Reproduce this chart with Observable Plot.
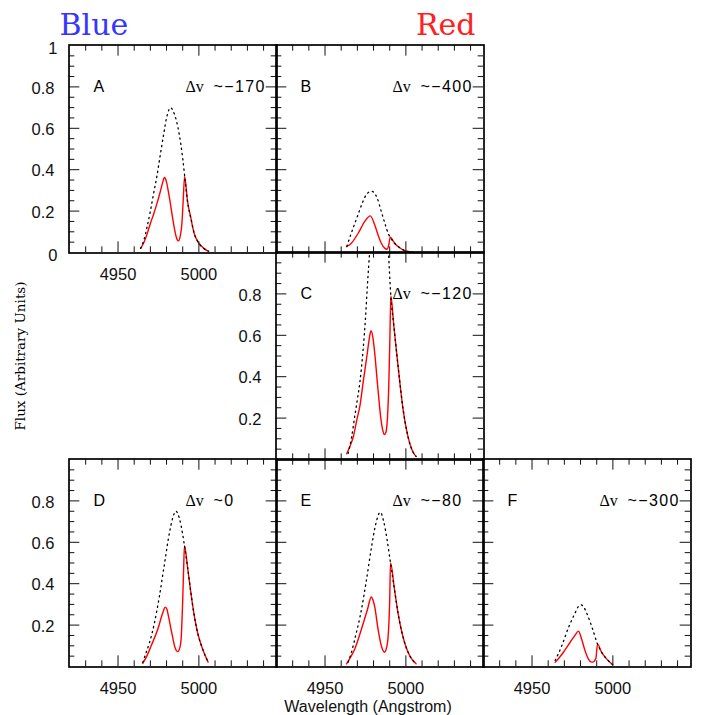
<!DOCTYPE html>
<html>
<head>
<meta charset="utf-8">
<script src="https://cdn.jsdelivr.net/npm/d3@7"></script>
<script src="https://cdn.jsdelivr.net/npm/@observablehq/plot@0.6"></script>
<style>
  html, body { margin: 0; padding: 0; background: #ffffff; }
  #chart { width: 705px; height: 715px; }
</style>
</head>
<body>
<div id="chart"></div>
<script>
// ---------- data ----------
const panelIds    = ["A", "B", "C", "D", "E", "F"];
const panelColumn = [0, 1, 1, 0, 1, 2];
const panelRow    = [0, 0, 1, 2, 2, 2];
const deltaV      = ["−170", "−400", "−120", "0", "−80", "−300"];
const columnTitles = ["Blue", "Red"];

// dotted curves (model), [wavelength, flux]
const modelA = [[4964,0.02],[4966,0.06],[4968,0.125],[4970,0.2],[4972,0.285],[4974,0.367],[4976,0.465],[4978,0.56],[4980,0.65],[4981.5,0.69],[4982.5,0.70],[4984,0.685],[4986,0.64],[4988,0.565],[4990,0.455],[4991.2,0.37],[4993,0.246],[4995,0.168],[4997,0.095],[5000,0.045],[5003,0.02],[5006,0.006]];
const modelB = [[4963.5,0.03],[4967,0.11],[4970,0.174],[4973,0.238],[4975.6,0.28],[4978.8,0.296],[4982.3,0.262],[4984.8,0.198],[4987.3,0.134],[4989.3,0.088],[4990.3,0.074],[4993,0.045],[4996,0.024],[4999,0.01],[5002,0.004],[5004,0.001]];
const modelC = [[4964.3,0.03],[4966.5,0.11],[4968.4,0.21],[4970,0.29],[4971.5,0.37],[4973.5,0.525],[4975,0.68],[4976.2,0.84],[4977.6,1.0],[4980,1.2],[4983.5,1.3],[4987,1.2],[4989.2,1.0],[4990.7,0.79],[4992.5,0.65],[4994.3,0.515],[4996.3,0.37],[4998.4,0.235],[5000.5,0.14],[5002.5,0.075],[5004.5,0.035],[5006.3,0.015]];
const modelD = [[4965.3,0.02],[4967.5,0.07],[4969.5,0.116],[4972.5,0.21],[4975.6,0.34],[4978.8,0.50],[4981.8,0.646],[4983.8,0.717],[4985.8,0.75],[4987.9,0.717],[4990,0.638],[4991.1,0.583],[4993,0.48],[4995.1,0.354],[4997.2,0.243],[4999.2,0.164],[5002.3,0.085],[5005.7,0.021]];
const modelE = [[4964.3,0.021],[4966.4,0.07],[4968.4,0.132],[4972.5,0.274],[4975.6,0.417],[4978.7,0.575],[4981.3,0.686],[4984.2,0.745],[4986.3,0.70],[4988.5,0.607],[4990.5,0.50],[4993,0.37],[4995.1,0.26],[4997.1,0.18],[4999.2,0.116],[5002.3,0.053],[5006.3,0.013]];
const modelF = [[4964.3,0.029],[4968.4,0.10],[4972.5,0.187],[4976.6,0.258],[4978.5,0.288],[4980.3,0.298],[4982,0.287],[4983.8,0.258],[4987.5,0.18],[4990.5,0.108],[4993,0.069],[4996.1,0.037],[4999.8,0.01]];

// red curves (observed), [wavelength, flux]
const observedA = [[4964,0.02],[4966,0.048],[4968,0.09],[4970,0.14],[4972,0.185],[4974,0.235],[4976,0.29],[4977.5,0.335],[4978.7,0.362],[4980,0.34],[4981,0.30],[4982,0.255],[4983,0.205],[4984,0.155],[4985,0.11],[4986,0.075],[4987.3,0.056],[4988.5,0.08],[4989.5,0.14],[4990.3,0.25],[4991.2,0.367],[4993,0.246],[4995,0.168],[4997,0.095],[5000,0.045],[5003,0.02],[5006,0.006]];
const observedB = [[4963.3,0.028],[4966.3,0.045],[4970.5,0.093],[4974.6,0.15],[4978,0.177],[4980.7,0.134],[4982.8,0.085],[4984.8,0.045],[4986.9,0.021],[4988.3,0.016],[4989.5,0.04],[4990.3,0.074],[4993,0.045],[4996,0.024],[4999,0.01],[5002,0.004],[5004,0.001]];
const observedC = [[4963.4,0.028],[4965.5,0.065],[4967.5,0.11],[4969.5,0.185],[4971.6,0.26],[4973.7,0.38],[4975.9,0.50],[4977.3,0.58],[4978.4,0.622],[4979.5,0.595],[4980.6,0.525],[4982.5,0.36],[4984.5,0.2],[4985.6,0.145],[4986.6,0.12],[4987.6,0.13],[4988.6,0.2],[4989.4,0.35],[4990.1,0.58],[4990.7,0.79],[4992.5,0.65],[4994.3,0.515],[4996.3,0.37],[4998.4,0.235],[5000.5,0.14],[5002.5,0.075],[5004.5,0.035],[5006.3,0.015]];
const observedD = [[4965.3,0.015],[4967.8,0.05],[4970.5,0.10],[4974.6,0.18],[4977.7,0.26],[4979.2,0.287],[4980.3,0.275],[4981.2,0.243],[4983.2,0.164],[4985.2,0.093],[4986.9,0.072],[4988.2,0.09],[4989,0.13],[4990,0.32],[4990.6,0.48],[4991.1,0.583],[4993,0.48],[4995.1,0.354],[4997.2,0.243],[4999.2,0.164],[5002.3,0.085],[5005.7,0.021]];
const observedE = [[4963.3,0.013],[4965.8,0.045],[4968.4,0.085],[4972.5,0.18],[4976.2,0.274],[4978.6,0.336],[4979.7,0.32],[4980.7,0.29],[4982.8,0.18],[4984.8,0.10],[4986.8,0.069],[4988,0.09],[4988.9,0.132],[4990,0.32],[4990.5,0.50],[4993,0.37],[4995.1,0.26],[4997.1,0.18],[4999.2,0.116],[5002.3,0.053],[5006.3,0.013]];
const observedF = [[4964.3,0.02],[4966.8,0.042],[4969.4,0.069],[4973.5,0.116],[4976.5,0.15],[4978.7,0.171],[4980.7,0.132],[4982.8,0.076],[4984.8,0.037],[4986.5,0.022],[4987.5,0.021],[4989.5,0.04],[4990.5,0.108],[4993,0.069],[4996.1,0.037],[4999.8,0.01]];

// axes
const xDomain = [4920, 5048];
const yDomain = [0, 1];
const xTickLabels = [4950, 5000];
const xMajorTicks = [4950, 5000];
const xMinorTicks = [4930, 4940, 4960, 4970, 4980, 4990, 5010, 5020, 5030, 5040];
const yTickLabels = [0.2, 0.4, 0.6, 0.8];
const yEndLabels  = [0, 1];
const yMajorTicks = [0.2, 0.4, 0.6, 0.8];
const yMinorTicks = [0.05, 0.1, 0.15, 0.25, 0.3, 0.35, 0.45, 0.5, 0.55, 0.65, 0.7, 0.75, 0.85, 0.9, 0.95];
const xLabel = "Wavelength (Angstrom)";
const yLabel = "Flux (Arbitrary Units)";

// ---------- build tables ----------
const modelCurves = [modelA, modelB, modelC, modelD, modelE, modelF];
const observedCurves = [observedA, observedB, observedC, observedD, observedE, observedF];
const panels = panelIds.map((id, i) => ({id, col: panelColumn[i], row: panelRow[i], dv: deltaV[i]}));
const toRows = (curves) => panels.flatMap((p, i) =>
  curves[i].map(([lam, f]) => ({panel: p.id, col: p.col, row: p.row, lam, f})));
const modelRows = toRows(modelCurves);
const observedRows = toRows(observedCurves);
const titleRows = [
  {label: columnTitles[0], col: panels[0].col, row: panels[0].row},
  {label: columnTitles[1], col: panels[1].col, row: panels[1].row}
];

// ---------- layout ----------
const width = 705, height = 715;
const mt = 44, mr = 14, mb = 49, ml = 68;
const cellW = (width - ml - mr) / 3;
const cellH = (height - mt - mb) / 3;
const minorLen = 6, majorLen = 11;
const tickStyle = {stroke: "#111", strokeWidth: 1};
const facet = {fx: "col", fy: "row"};
const sans = "'Liberation Sans', Arial, Helvetica, sans-serif";

const chart = Plot.plot({
  width, height,
  marginTop: mt, marginRight: mr, marginBottom: mb, marginLeft: ml,
  style: {fontFamily: sans, fontSize: "16px", background: "#ffffff", color: "#000"},
  fx: {domain: [0, 1, 2], padding: 0, axis: null},
  fy: {domain: [0, 1, 2], padding: 0, axis: null},
  x: {domain: xDomain},
  y: {domain: yDomain},
  marks: [
    Plot.line(observedRows, {...facet, x: "lam", y: "f", z: "panel", stroke: "#ff0000", strokeWidth: 1.4, curve: "monotone-x", clip: true}),
    Plot.line(modelRows, {...facet, x: "lam", y: "f", z: "panel", stroke: "#000", strokeWidth: 1.3, strokeDasharray: "1.3,3.9", curve: "monotone-x", clip: true}),

    Plot.tickX(xMinorTicks, {x: d => d, insetTop: cellH - minorLen, ...tickStyle}),
    Plot.tickX(xMinorTicks, {x: d => d, insetBottom: cellH - minorLen, ...tickStyle}),
    Plot.tickX(xMajorTicks, {x: d => d, insetTop: cellH - majorLen, ...tickStyle}),
    Plot.tickX(xMajorTicks, {x: d => d, insetBottom: cellH - majorLen, ...tickStyle}),
    Plot.tickY(yMinorTicks, {y: d => d, insetRight: cellW - minorLen, ...tickStyle}),
    Plot.tickY(yMinorTicks, {y: d => d, insetLeft: cellW - minorLen, ...tickStyle}),
    Plot.tickY(yMajorTicks, {y: d => d, insetRight: cellW - majorLen, ...tickStyle}),
    Plot.tickY(yMajorTicks, {y: d => d, insetLeft: cellW - majorLen, ...tickStyle}),

    Plot.frame({stroke: "#000", strokeWidth: 1.7, inset: -0.5}),

    Plot.axisX(xTickLabels, {facetAnchor: "bottom-empty", tickSize: 0, tickPadding: 16, tickFormat: d => `${d}`, fontSize: 16.5, fill: "#111", label: null}),
    Plot.axisY(yTickLabels, {facetAnchor: "left-empty", tickSize: 0, tickPadding: 15, tickFormat: d => `${d}`, fontSize: 16.5, fill: "#111", dy: 1.5, label: null}),
    Plot.axisY(yEndLabels, {facetAnchor: "top-left", tickSize: 0, tickPadding: 12, tickFormat: d => `${d}`, fontSize: 16.5, fill: "#111", dy: 3, label: null}),

    Plot.text(panels, {...facet, text: "id", frameAnchor: "top-left", dx: 24, dy: 41, textAnchor: "start", lineAnchor: "middle", fontSize: 16, fill: "#000"}),
    Plot.text(panels, {...facet, text: () => "Δv", frameAnchor: "top-left", dx: 116, dy: 41, textAnchor: "start", lineAnchor: "middle", fontSize: 16, fontFamily: "'Liberation Serif', 'Times New Roman', serif", fill: "#000"}),
    Plot.text(panels, {...facet, text: p => `~${p.dv}`, frameAnchor: "top-left", dx: 144, dy: 41, textAnchor: "start", lineAnchor: "middle", fontSize: 16, fill: "#000"}),

    Plot.text(titleRows.slice(0, 1), {...facet, text: "label", frameAnchor: "top-left", dx: -10, dy: -11, textAnchor: "start", lineAnchor: "bottom", fontSize: 30, fontFamily: "'DejaVu Serif', serif", fill: "#3535ff"}),
    Plot.text(titleRows.slice(1, 2), {...facet, text: "label", frameAnchor: "top-right", dx: -8, dy: -11, textAnchor: "end", lineAnchor: "bottom", fontSize: 30, fontFamily: "'DejaVu Serif', serif", fill: "#ff2020"}),

    Plot.text([xLabel], {facet: "super", text: d => d, frameAnchor: "bottom", dx: -12, dy: 45, lineAnchor: "bottom", textAnchor: "middle", fontSize: 16, fill: "#111"}),
    Plot.text([yLabel], {facet: "super", text: d => d, frameAnchor: "left", dx: -49, rotate: -90, lineAnchor: "middle", textAnchor: "middle", fontSize: 13.5, fontFamily: "'DejaVu Serif', serif", fill: "#000"})
  ]
});

// widen the spacing of the velocity values, as in the reference lettering
chart.querySelectorAll("text").forEach(t => {
  if (t.textContent.startsWith("~")) t.setAttribute("letter-spacing", "1.4");
});

document.getElementById("chart").appendChild(chart);
</script>
</body>
</html>
